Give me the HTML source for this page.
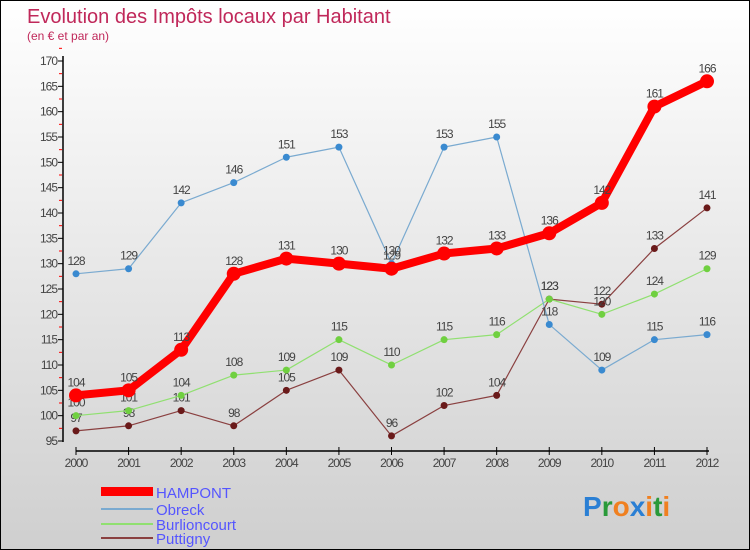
<!DOCTYPE html>
<html><head><meta charset="utf-8"><style>
body{margin:0}
#c{width:750px;height:550px;position:relative;overflow:hidden;box-sizing:border-box;border:1px solid #000;background:linear-gradient(#ffffff,#cfcfcf);font-family:"Liberation Sans",sans-serif}
</style></head><body>
<div id="c">
<svg id="s" width="750" height="550" style="position:absolute;left:0;top:0">
<text x="26" y="22" font-size="20" fill="#c0285a">Evolution des Impôts locaux par Habitant</text>
<text x="26" y="39" font-size="12" fill="#c0285a">(en € et par an)</text>
<g id="axes"></g><g id="series"></g>
<g>
<rect x="100" y="486" width="52" height="9" fill="#f00"/>
<text x="155" y="497" font-size="15" fill="#5555ff">HAMPONT</text>
<line x1="100" y1="508" x2="152" y2="508" stroke="#7aaad0" stroke-width="2"/>
<text x="155" y="514" font-size="15" fill="#5555ff">Obreck</text>
<line x1="100" y1="523" x2="152" y2="523" stroke="#90e070" stroke-width="2"/>
<text x="155" y="529" font-size="15" fill="#5555ff">Burlioncourt</text>
<line x1="100" y1="537" x2="152" y2="537" stroke="#8a4040" stroke-width="2"/>
<text x="155" y="543" font-size="15" fill="#5555ff">Puttigny</text>
</g>
<g font-size="28" font-weight="bold">
<text x="582" y="515"><tspan fill="#2a7fd4">P</tspan><tspan fill="#2a9a3a">r</tspan><tspan fill="#f08020">o</tspan><tspan fill="#2a7fd4">x</tspan><tspan fill="#f08020">i</tspan><tspan fill="#2a9a3a">t</tspan><tspan fill="#f08020">i</tspan></text>
</g>
</svg>
</div>
<script>
const years=[2000,2001,2002,2003,2004,2005,2006,2007,2008,2009,2010,2011,2012];
const yTicks=[95,100,105,110,115,120,125,130,135,140,145,150,155,160,165,170];
const hampont=[104,105,113,128,131,130,129,132,133,136,142,161,166];
const obreck=[128,129,142,146,151,153,130,153,155,118,109,115,116];
const burlioncourt=[100,101,104,108,109,115,110,115,116,123,120,124,129];
const puttigny=[97,98,101,98,105,109,96,102,104,123,122,133,141];
const NS="http://www.w3.org/2000/svg";
const x0=75,x1=706,yTop=60,yBot=440,vMin=95,vMax=170;
function xs(i){return x0+(x1-x0)*i/(years.length-1);}
function ys(v){return yBot-(v-vMin)/(vMax-vMin)*(yBot-yTop);}
function mk(t,a,p){const e=document.createElementNS(NS,t);for(const k in a)e.setAttribute(k,a[k]);p.appendChild(e);return e;}
const ax=document.getElementById('axes');
let yl=mk('line',{x1:62,y1:55,x2:62,y2:441,stroke:'#000','stroke-width':1.5},ax);


yTicks.forEach(v=>{
 mk('line',{x1:57,y1:ys(v),x2:62,y2:ys(v),stroke:'#000'},ax);
 mk('line',{x1:58,y1:ys(v+2.5),x2:61,y2:ys(v+2.5),stroke:'#f00'},ax);
 const t=mk('text',{x:56,y:ys(v)+4,'font-size':12,'text-anchor':'end',fill:'#444','letter-spacing':'-1'},ax);
 t.textContent=v;
 
 
});
let xl=mk('line',{x1:75,y1:450,x2:708,y2:450,stroke:'#000','stroke-width':1.5},ax);


years.forEach((y,i)=>{
 mk('line',{x1:xs(i),y1:446,x2:xs(i),y2:454,stroke:'#000'},ax);
 const t=mk('text',{x:xs(i),y:466,'font-size':12,'text-anchor':'middle',fill:'#444','letter-spacing':'-1'},ax);
 t.textContent=y;
 
 
});
const sg=document.getElementById('series');
function draw(data,color,w,r,name,dot){
 const g=mk('g',{},sg);
 
 
 mk('polyline',{points:data.map((v,i)=>xs(i)+','+ys(v)).join(' '),fill:'none',stroke:color,'stroke-width':w,'stroke-linejoin':'round'},g);
 data.forEach((v,i)=>{
  const c=mk('circle',{cx:xs(i),cy:ys(v),r:r,fill:dot},g);
  
  
  const t=mk('text',{x:xs(i),y:ys(v)-9,'font-size':12,'text-anchor':'middle',fill:'#444','letter-spacing':'-1'},g);
  t.textContent=v;
  
  
 });
}
draw(puttigny,'#8a4040',1.2,3.5,'puttigny','#6a1a1a');
draw(burlioncourt,'#90e070',1.2,3.5,'burlioncourt','#70d040');
draw(obreck,'#7aaad0',1.2,3.5,'obreck','#3a8ad0');
draw(hampont,'#f00',8,7,'hampont','#f00');
</script>
</body></html>
